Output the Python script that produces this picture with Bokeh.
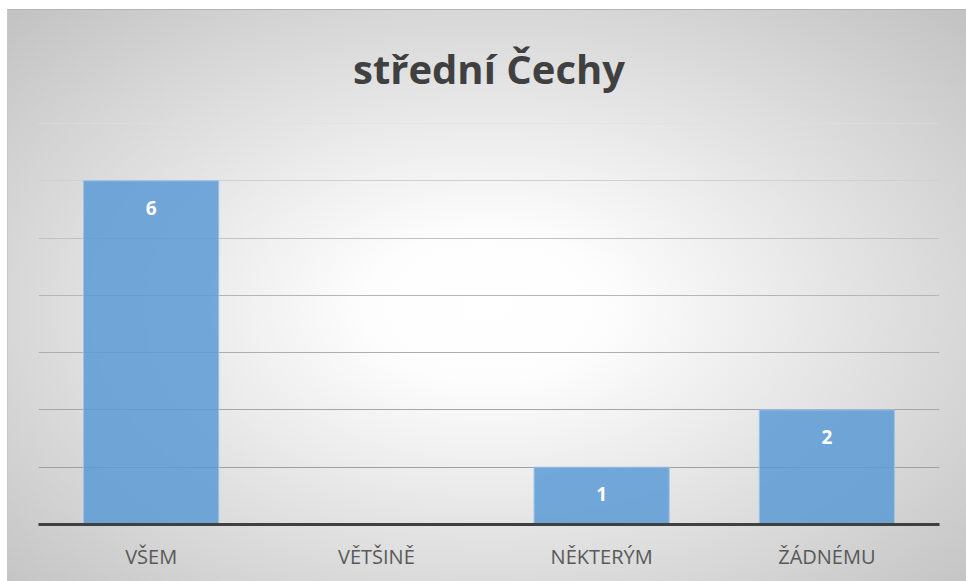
from bokeh.plotting import figure
from bokeh.models import ColumnDataSource, Range1d, FactorRange, LabelSet
from bokeh.core.properties import value
from bokeh.embed import file_html
from bokeh.resources import INLINE

title_text = "střední Čechy"
categories = ["VŠEM", "VĚTŠINĚ", "NĚKTERÝM", "ŽÁDNÉMU"]
values = [6, 0, 1, 2]
grid_levels = [1, 2, 3, 4, 5, 6, 7]
grid_colors = ["#a0a0a0", "#a6a6a6", "#aeaeae", "#b6b6b6", "#c2c2c2", "#d0d0d0", "#e0e0e0"]

FONT = "Open Sans"

p = figure(
    width=959, height=572,
    x_range=FactorRange(factors=categories, range_padding=0),
    y_range=Range1d(0, 7),
    output_backend="svg", toolbar_location=None,
    min_border_left=30, min_border_right=28, min_border_top=113, min_border_bottom=58,
    background_fill_alpha=0, border_fill_alpha=0,
    outline_line_color=None,
    styles={
        "margin": "9px 0 0 7px",
        "background": "radial-gradient(ellipse farthest-corner at 50% 52%, #ffffff 0%, #fdfdfd 18%, #c2c2c2 100%)",
        "border-top": "1px solid #b4b4b4",
        "border-left": "1px solid #c8c8c8",
    },
)

p.title.text = title_text
p.title.align = "center"
p.title.text_font = FONT
p.title.text_font_style = "bold"
p.title.text_font_size = "40px"
p.title.text_color = "#404040"
p.title.standoff = 55

p.xgrid.visible = False
p.ygrid.visible = False
p.yaxis.visible = False

p.hspan(y=grid_levels, line_color=grid_colors, line_width=1)

src = ColumnDataSource(dict(cat=categories, val=values, lab=[str(v) if v else "" for v in values]))
p.vbar(x="cat", top="val", width=0.6, source=src,
       fill_color="#5B9BD5", fill_alpha=0.85, line_color="#9DC3E6", line_width=1)

labels = LabelSet(x="cat", y="val", text="lab", source=src, y_offset=-27,
                  text_align="center", text_baseline="middle",
                  text_color="white", text_font=value(FONT), text_font_style="bold",
                  text_font_size="19px")
p.add_layout(labels)

ax = p.xaxis[0]
ax.axis_line_color = "#404040"
ax.axis_line_width = 3
ax.major_tick_line_color = None
ax.minor_tick_line_color = None
ax.major_label_text_font = FONT
ax.major_label_text_font_size = "20px"
ax.major_label_text_color = "#595959"
ax.major_label_standoff = 12

open("out.html", "w").write(file_html(p, INLINE))
